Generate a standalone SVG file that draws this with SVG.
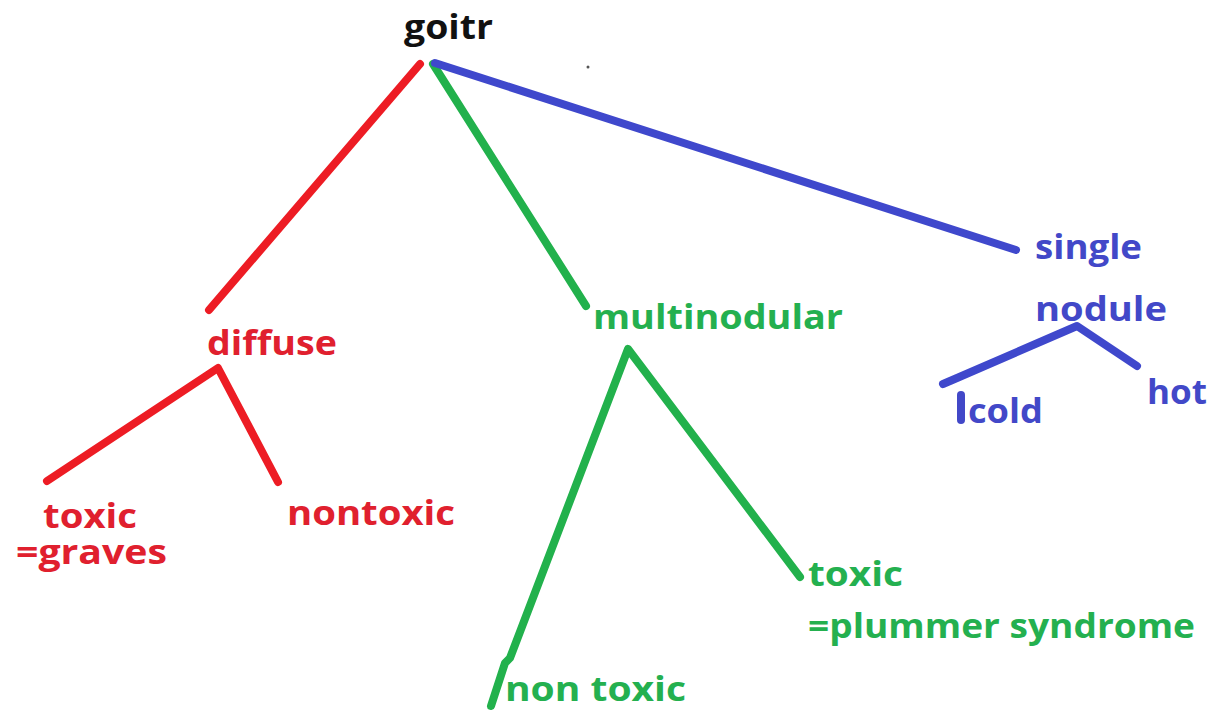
<svg xmlns="http://www.w3.org/2000/svg" width="1227" height="711" viewBox="0 0 1227 711">
<style>
text{font-family:"Open Sans","Liberation Sans",sans-serif;font-weight:bold;font-size:34px}
.r{fill:#e0202e}.g{fill:#24b04f}.b{fill:#4248c8}.k{fill:#111}
.lr{stroke:#ed1c24}.lg{stroke:#22b14c}.lb{stroke:#3f48cc}
line,polyline{stroke-width:8;stroke-linecap:round;stroke-linejoin:round;fill:none}
</style>
<rect width="1227" height="711" fill="#fff"/>
<g id="connectors">
<line class="lr" x1="420" y1="64" x2="209" y2="310"/>
<line class="lg" x1="433" y1="64" x2="586" y2="306"/>
<line class="lb" x1="435" y1="63" x2="1016" y2="250"/>
<polyline class="lr" points="47,481 218,368 278,482"/>
<polyline class="lg" points="491,706 505,663 510,658 628,349 800,577"/>
<polyline class="lb" points="943,384 957,378 1077,326 1137,366"/>
<line x1="961" y1="395" x2="961" y2="420" stroke="#4248c8" stroke-width="2"/>
<circle cx="588" cy="67" r="1.5" fill="#555"/>
</g>
<g id="goitr"><text class="k" x="404" y="39" textLength="89" lengthAdjust="spacingAndGlyphs">goitr</text></g>
<g id="diffuse"><text class="r" x="207" y="355" textLength="130" lengthAdjust="spacingAndGlyphs">diffuse</text></g>
<g id="multinodular"><text class="g" x="593" y="329" textLength="250" lengthAdjust="spacingAndGlyphs">multinodular</text></g>
<g id="single-nodule">
<text class="b" x="1035" y="259" textLength="107" lengthAdjust="spacingAndGlyphs">single</text>
<text class="b" x="1035" y="321" textLength="132" lengthAdjust="spacingAndGlyphs">nodule</text>
</g>
<g id="diffuse-toxic">
<text class="r" x="43" y="528" textLength="94" lengthAdjust="spacingAndGlyphs">toxic</text>
<text class="r" x="16" y="564" textLength="151" lengthAdjust="spacingAndGlyphs">=graves</text>
</g>
<g id="diffuse-nontoxic"><text class="r" x="287" y="525" textLength="168" lengthAdjust="spacingAndGlyphs">nontoxic</text></g>
<g id="multi-toxic">
<text class="g" x="808" y="586" textLength="95" lengthAdjust="spacingAndGlyphs">toxic</text>
<text class="g" x="808" y="638" textLength="387" lengthAdjust="spacingAndGlyphs">=plummer syndrome</text>
</g>
<g id="multi-nontoxic"><text class="g" x="505" y="701" textLength="181" lengthAdjust="spacingAndGlyphs">non toxic</text></g>
<g id="cold"><text class="b" x="968" y="423" textLength="75" lengthAdjust="spacingAndGlyphs">cold</text></g>
<g id="hot"><text class="b" x="1147" y="404" textLength="60" lengthAdjust="spacingAndGlyphs">hot</text></g>
</svg>
